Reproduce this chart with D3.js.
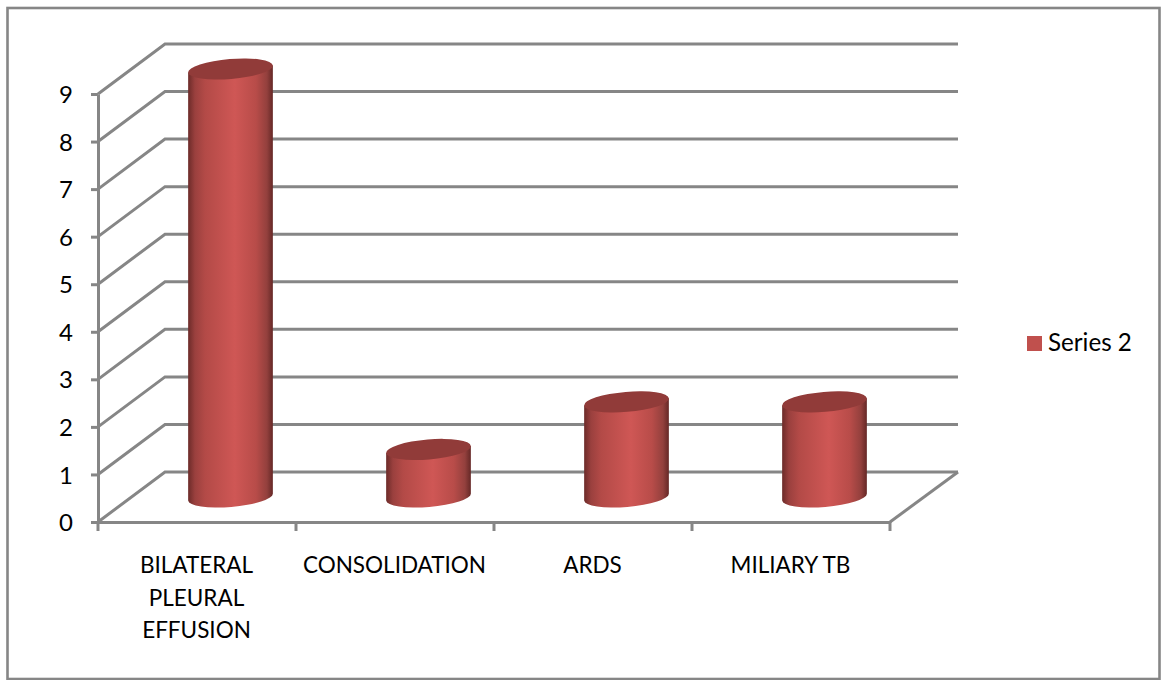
<!DOCTYPE html>
<html>
<head>
<meta charset="utf-8">
<script src="https://cdn.jsdelivr.net/npm/d3@7"></script>
<style>
  html, body { margin: 0; padding: 0; background: #fff; }
  svg { display: block; }
  text { font-family: Lato, "Open Sans", sans-serif; fill: #000; }
</style>
</head>
<body>
<svg id="chart" width="1163" height="680"></svg>
<script>
const categories = [["BILATERAL", "PLEURAL", "EFFUSION"], ["CONSOLIDATION"], ["ARDS"], ["MILIARY TB"]];
const series2 = [9, 1, 2, 2];
const yTicks = [0, 1, 2, 3, 4, 5, 6, 7, 8, 9];
const seriesName = "Series 2";

const svg = d3.select("#chart");
const gridColor = "#868686";

// Oblique projection: the back wall is shifted right and up from the front plane.
const depth = { x: 67, y: -50 };
const y = d3.scaleLinear().domain([0, 9]).range([522, 94]);
const x = d3.scaleBand().domain(d3.range(categories.length)).range([98, 890]);
const xRight = x.range()[1];
const xLeft = x.range()[0];

svg.append("rect")
  .attr("x", 7.5).attr("y", 8).attr("width", 1152).attr("height", 671)
  .attr("fill", "#fff").attr("stroke", gridColor).attr("stroke-width", 2.6);

// Cylinder shading runs across the width of each column.
const defs = svg.append("defs");
const grad = defs.append("linearGradient").attr("id", "cyl");
[[0, "#6c2b29"], [0.08, "#9a403e"], [0.2, "#b34a47"], [0.55, "#cf5755"], [0.8, "#b84c49"], [0.93, "#93403d"], [1, "#652826"]]
  .forEach(([o, c]) => grad.append("stop").attr("offset", o).attr("stop-color", c));

// Back wall gridlines and the slanted lines on the side wall.
const grid = svg.append("g").attr("fill", "none").attr("stroke", gridColor).attr("stroke-width", 3);
yTicks.forEach(t => {
  const py = y(t);
  grid.append("path").attr("d", d3.line()([
    [xLeft, py], [xLeft + depth.x, py + depth.y], [xRight + depth.x + 1, py + depth.y]
  ]));
});
// Floor edge from the front right corner to the back right corner.
grid.append("path").attr("d", d3.line()([
  [xRight, y(0)], [xRight + depth.x + 1, y(0) + depth.y]
]));

// Front axes with their tick marks.
const axisY = svg.append("g").attr("transform", `translate(${xLeft},0)`)
  .call(d3.axisLeft(y).tickValues(yTicks).tickSize(7).tickSizeOuter(0).tickPadding(18));
axisY.selectAll("text").style("font-size", "24px").attr("fill", "#000").attr("dy", "0.36em");

const axisX = svg.append("g").attr("transform", `translate(0,${y(0)})`)
  .call(d3.axisBottom(x.copy().paddingInner(0)).tickValues([]).tickSize(0).tickSizeOuter(0));
[...x.domain().map(i => x(i)), xRight].forEach(px => {
  axisX.append("line").attr("x1", px).attr("x2", px).attr("y1", 0).attr("y2", 9);
});
[axisY, axisX].forEach(a => {
  a.selectAll("path, line").attr("stroke", gridColor).attr("stroke-width", 3);
});

// Cylinders sit half way between the front plane and the back wall.
const rx = 42.5, ry = 10, tilt = -4.8;
const baseY = v => y(v) + depth.y / 2;
const cx = i => x(i) + x.bandwidth() / 2 + depth.x / 2;
const dx = rx * Math.cos(tilt * Math.PI / 180), dy = rx * Math.sin(tilt * Math.PI / 180);

const bars = svg.append("g").selectAll("g").data(series2).join("g");
bars.append("path")
  .attr("fill", "url(#cyl)")
  .attr("d", (v, i) => {
    const c = cx(i), top = baseY(v), bot = baseY(0);
    return `M${c - dx},${top - dy} L${c - dx},${bot - dy}` +
           ` A${rx},${ry} ${tilt} 0 0 ${c + dx},${bot + dy}` +
           ` L${c + dx},${top + dy} Z`;
  });
bars.append("ellipse")
  .attr("fill", "#913b39")
  .attr("rx", rx).attr("ry", ry)
  .attr("transform", (v, i) => `translate(${cx(i)},${baseY(v)}) rotate(${tilt})`);

// Category labels, wrapped as in the source table.
const labels = svg.append("g").attr("font-size", "22.5px").attr("text-anchor", "middle");
categories.forEach((lines, i) => {
  lines.forEach((ln, j) => {
    labels.append("text")
      .attr("x", x(i) + x.bandwidth() / 2 - 0.5)
      .attr("y", 573 + j * 32.5)
      .text(ln);
  });
});

// Legend.
const legend = svg.append("g");
legend.append("rect").attr("x", 1027).attr("y", 336).attr("width", 15).attr("height", 15).attr("fill", "#c0504d");
legend.append("text").attr("x", 1048).attr("y", 351).attr("font-size", "24.2px").text(seriesName);
</script>
</body>
</html>
